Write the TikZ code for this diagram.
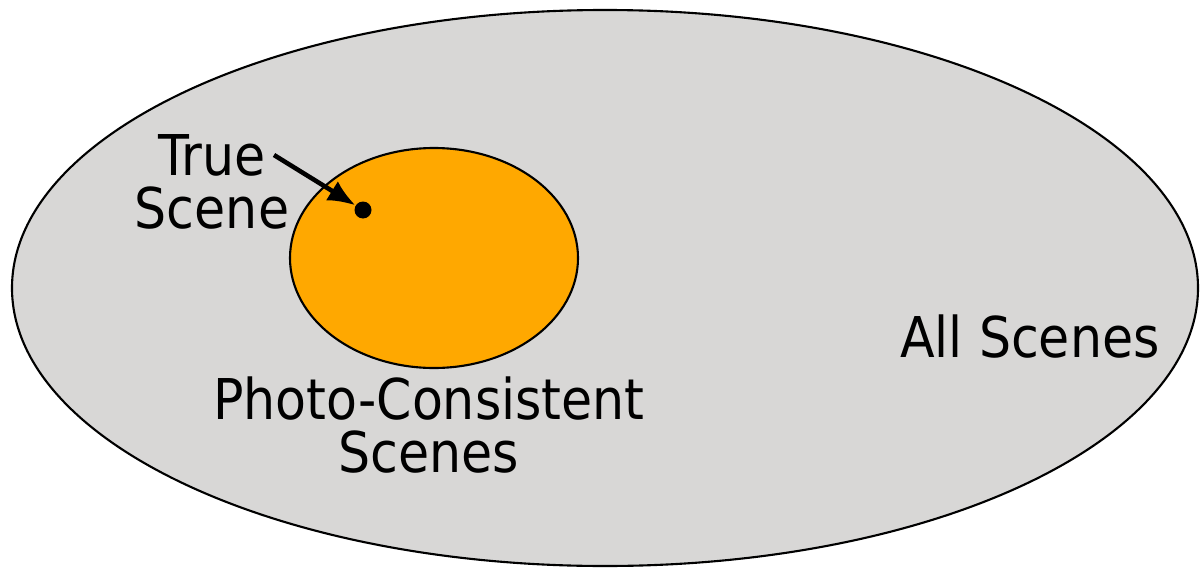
\documentclass[tikz,border=0pt]{standalone}
\usepackage{fontspec}
\setmainfont{DejaVu Sans Condensed}
\usetikzlibrary{arrows.meta}

\definecolor{scenegray}{RGB}{216,215,214}
\definecolor{photoorange}{RGB}{255,168,0}

\begin{document}
\begin{tikzpicture}[x=0.02cm, y=-0.02cm,
  setline/.style={draw=black, line width=1.2pt},
  bigtext/.style={font=\fontsize{32}{30}\selectfont, align=center, inner sep=0pt}]
  \useasboundingbox (0,0) rectangle (1200,568);

  % All scenes
  \draw[setline, fill=scenegray] (605,288) ellipse [x radius=593, y radius=278];
  \node[bigtext] (all) at (1030,337) {All Scenes};

  % Photo-consistent scenes
  \draw[setline, fill=photoorange] (434,258) ellipse [x radius=144, y radius=110];
  \node[bigtext] (photo) at (429,425) {Photo-Consistent\\Scenes};

  % True scene
  \node[circle, fill=black, inner sep=0pt, minimum size=0.34cm] (dot) at (363,210) {};
  \node[bigtext] (truescene) at (212,182) {True\\Scene};
  \coordinate (tail) at (274,155);
  \draw[line width=2.6pt, -{Latex[length=0.55cm,width=0.45cm]}] (tail) -- (dot);
\end{tikzpicture}
\end{document}
